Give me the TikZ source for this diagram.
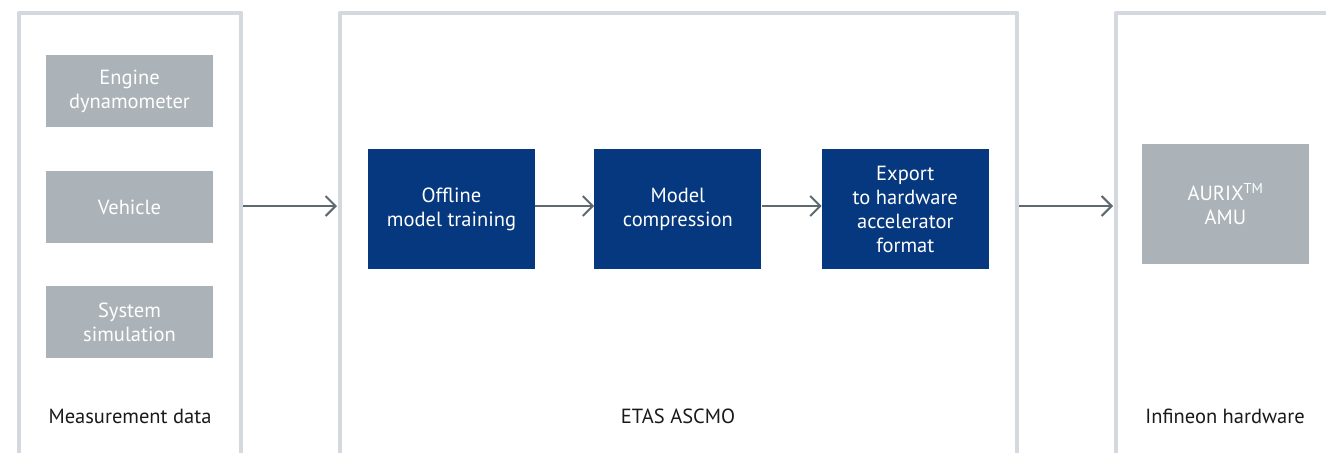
\documentclass[tikz,border=0pt]{standalone}
\usepackage{fontspec}
\setmainfont{PT Sans}
\usetikzlibrary{arrows.meta,positioning}
\definecolor{framegray}{HTML}{D3D9DE}
\definecolor{srcgray}{HTML}{ABB3B8}
\definecolor{etasblue}{HTML}{06387F}
\definecolor{arrowgray}{HTML}{5E6970}
\definecolor{labelblack}{HTML}{1A1A1A}
\begin{document}
\begin{tikzpicture}[x=1pt,y=-1pt,font=\fontsize{20.5}{24}\selectfont,line join=round,>={Straight Barb[length=10pt,width=20pt]}]
	\tikzset{frame/.style={draw=framegray,line width=4pt},
		area/.style={rectangle,inner sep=0pt,anchor=north west},
		srcbox/.style={rectangle,fill=srcgray,text=white,inner sep=0pt,minimum width=167pt,minimum height=72pt,align=center},
		stepbox/.style={rectangle,fill=etasblue,text=white,inner sep=0pt,minimum width=167pt,minimum height=120pt,align=center},
		hwbox/.style={srcbox,minimum height=120pt},
		flow/.style={->,draw=arrowgray,line width=2pt},
		caption/.style={text=labelblack}}
	\useasboundingbox[fill=white] (0,0) rectangle (1326,453);
	\node[area,minimum width=222pt,minimum height=440pt] (meas) at (19,13) {};
	\node[area,minimum width=677pt,minimum height=440pt] (ascmo) at (340,13) {};
	\node[area,minimum width=210pt,minimum height=440pt] (infineon) at (1116,13) {};
	\draw[frame] (meas.south west) |- (meas.north east) -- (meas.south east);
	\draw[frame] (ascmo.south west) |- (ascmo.north east) -- (ascmo.south east);
	\draw[frame] (infineon.south west) |- (infineon.north east);
	\node[srcbox] (engine) at (129.5,91) {Engine\\dynamometer};
	\node[srcbox] (vehicle) at (129.5,207) {Vehicle};
	\node[srcbox] (simulation) at (129.5,322) {System\\simulation};
	\node[stepbox] (training) at (451.5,209) {Offline\\model training};
	\node[stepbox,right=59pt of training] (compression) {Model\\compression};
	\node[stepbox,right=60pt of compression] (export) {Export\\to hardware\\accelerator\\format};
	\node[hwbox] (aurix) at (1225.5,204) {AURIX\textsuperscript{TM}\\AMU};
	\node[caption] (measlabel) at (130,416) {Measurement data};
	\node[caption] (ascmolabel) at (678,416) {ETAS ASCMO};
	\node[caption] (infineonlabel) at (1225,416) {Infineon hardware};
	\draw[flow,shorten <=2pt,shorten >=3pt] (meas.east |- 0,206) -- (ascmo.west |- 0,206);
	\draw[flow] ([yshift=3pt]training.east) -- ([yshift=3pt]compression.west);
	\draw[flow] ([yshift=3pt]compression.east) -- ([yshift=3pt]export.west);
	\draw[flow,shorten <=2pt,shorten >=3pt] (ascmo.east |- 0,206) -- (infineon.west |- 0,206);
\end{tikzpicture}
\end{document}
